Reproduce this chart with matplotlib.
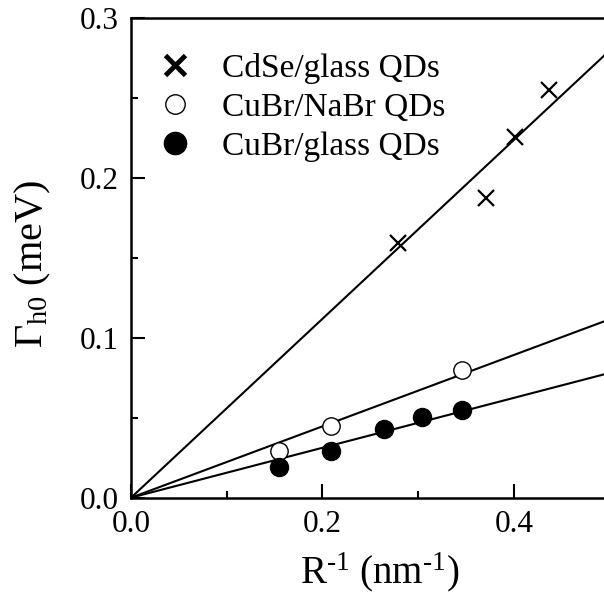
import matplotlib
matplotlib.use('Agg')
import matplotlib.pyplot as plt
from matplotlib.lines import Line2D

plt.rcParams['font.family'] = 'Liberation Serif'
plt.rcParams['mathtext.fontset'] = 'custom'
plt.rcParams['mathtext.rm'] = 'Liberation Serif'
plt.rcParams['mathtext.it'] = 'Liberation Serif:italic'

# data
cdse_x = [0.279, 0.371, 0.401, 0.437]
cdse_y = [0.159, 0.1875, 0.2256, 0.2548]
nabr_x = [0.155, 0.209, 0.346]
nabr_y = [0.0292, 0.0446, 0.080]
glass_x = [0.155, 0.209, 0.264, 0.304, 0.346]
glass_y = [0.019, 0.0292, 0.0431, 0.0502, 0.055]

# linear fits through origin: values at x=0 and x=0.5
fit_x = [0.0, 0.5]
cdse_fit = [0.0, 0.2795]
nabr_fit = [0.0, 0.1115]
glass_fit = [0.0, 0.078]

labels = ['CdSe/glass QDs', 'CuBr/NaBr QDs', 'CuBr/glass QDs']

fig = plt.figure(figsize=(6.04, 6.01), dpi=100)
ax = fig.add_axes([0.2169, 0.1719, 0.7924, 0.7986])

ax.plot(fit_x, cdse_fit, color='k', lw=1.5)
ax.plot(fit_x, nabr_fit, color='k', lw=1.5)
ax.plot(fit_x, glass_fit, color='k', lw=1.5)

ax.plot(cdse_x, cdse_y, ls='none', marker='x', ms=12, mew=1.6, color='k')
ax.plot(nabr_x, nabr_y, ls='none', marker='o', ms=12.5, mew=1.0,
        mfc='white', mec='k')
ax.plot(glass_x, glass_y, ls='none', marker='o', ms=13, color='k')

ax.set_xlim(0, 0.5)
ax.set_ylim(0, 0.3)
ax.set_xticks([0.0, 0.2, 0.4])
ax.set_xticks([0.1, 0.3], minor=True)
ax.set_yticks([0.0, 0.1, 0.2, 0.3])
ax.set_yticks([0.05, 0.15, 0.25], minor=True)
ax.xaxis.set_major_formatter(matplotlib.ticker.FormatStrFormatter('%.1f'))
ax.yaxis.set_major_formatter(matplotlib.ticker.FormatStrFormatter('%.1f'))
ax.tick_params(which='both', direction='in', width=1.5, labelsize=22.5,
               top=False, right=False)
ax.tick_params(which='major', length=10, pad=9)
ax.tick_params(which='minor', length=5)
for s in ax.spines.values():
    s.set_linewidth(1.8)

fig.text(0.628, 0.030, r'R$^{\text{-}1}$ (nm$^{\text{-}1}$)', fontsize=28,
         ha='center', va='baseline')
fig.text(0.054, 0.561, r'$\Gamma_{\mathrm{h0}}$ (meV)', fontsize=29,
         rotation=90, ha='center', va='center')

handles = [
    Line2D([], [], ls='none', marker='x', ms=15, mew=3.5, color='k'),
    Line2D([], [], ls='none', marker='o', ms=14, mew=1.0, mfc='white', mec='k'),
    Line2D([], [], ls='none', marker='o', ms=16, color='k'),
]
ax.legend(handles, labels, loc='upper left', bbox_to_anchor=(0.03, 0.955),
          frameon=False, fontsize=24, handlelength=1.0, handletextpad=0.9,
          labelspacing=0.26, borderaxespad=0.0)

fig.savefig('out.png', dpi=100)
